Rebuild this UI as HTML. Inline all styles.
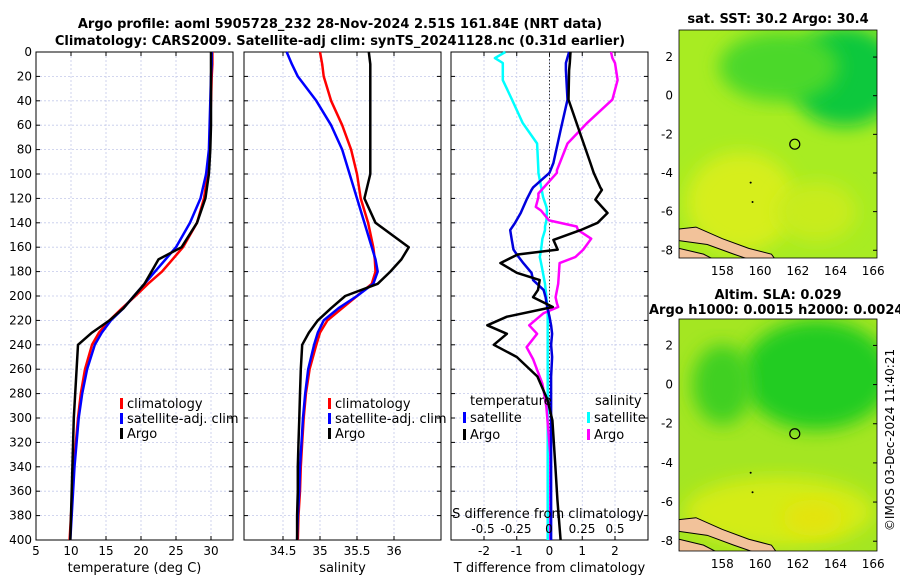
<!DOCTYPE html>
<html><head><meta charset="utf-8">
<style>
html,body{margin:0;padding:0;background:#fff;}
svg{display:block;font-family:"DejaVu Sans","Liberation Sans",sans-serif;}
</style></head>
<body>
<svg id="fig" width="900" height="580" viewBox="0 0 900 580" xmlns="http://www.w3.org/2000/svg">
<defs>
<filter id="blur1" x="-20%" y="-20%" width="140%" height="140%"><feGaussianBlur stdDeviation="9"/></filter>
<clipPath id="cm1"><rect x="679" y="30" width="198" height="228"/></clipPath>
<clipPath id="cm2"><rect x="679" y="319" width="198" height="232"/></clipPath>
</defs>
<g id="titles" font-weight="bold" font-size="13" text-anchor="middle">
<text x="340" y="28">Argo profile: aoml 5905728_232 28-Nov-2024 2.51S 161.84E (NRT data)</text>
<text x="340" y="45">Climatology: CARS2009. Satellite-adj clim: synTS_20241128.nc (0.31d earlier)</text>
<text x="778" y="23">sat. SST: 30.2 Argo: 30.4</text>
<text x="778" y="299">Altim. SLA: 0.029</text>
<text x="649" y="314" text-anchor="start">Argo h1000: 0.0015 h2000: 0.0024</text>
</g>
<text x="0" y="0" font-size="12" transform="translate(894,440) rotate(-90)" text-anchor="middle">©IMOS 03-Dec-2024 11:40:21</text>
</svg>
<script>
// ---------- data ----------
const depths = [0,10,20,40,60,80,100,120,140,160,170,180,190,200,210,220,230,240,260,280,300,320,340,360,380,400];
const tempArgo = [30.0,30.0,30.0,30.0,30.0,29.9,29.7,29.2,28.0,25.8,22.5,21.5,20.5,19.0,17.5,15.5,13.0,11.0,10.8,10.6,10.4,10.3,10.2,10.1,10.0,9.9];
const tempClim = [30.2,30.2,30.1,30.0,29.9,29.8,29.5,29.0,28.0,26.0,24.5,23.0,21.0,19.2,17.3,15.5,14.0,13.0,12.0,11.4,11.0,10.7,10.4,10.2,10.0,9.8];
const tempSat = [30.1,30.1,30.0,29.9,29.8,29.7,29.3,28.5,27.0,25.0,23.5,22.0,20.5,19.0,17.5,15.7,14.4,13.4,12.3,11.6,11.1,10.8,10.5,10.3,10.1,9.9];
const salArgo = [35.66,35.68,35.68,35.68,35.68,35.68,35.68,35.6,35.75,36.2,36.1,35.95,35.78,35.34,35.15,34.97,34.85,34.76,34.74,34.73,34.72,34.71,34.70,34.70,34.69,34.69];
const salClim = [35.0,35.03,35.05,35.15,35.3,35.42,35.5,35.55,35.65,35.72,35.74,35.75,35.7,35.5,35.3,35.1,35.0,34.95,34.86,34.81,34.78,34.76,34.74,34.73,34.71,34.7];
const salSat = [34.55,34.62,34.7,34.95,35.15,35.3,35.4,35.5,35.6,35.7,35.75,35.78,35.72,35.5,35.25,35.05,34.97,34.92,34.84,34.8,34.77,34.75,34.73,34.72,34.7,34.69];
const dDepths = [0,9,15,39,64,91,99,111,113,121,132,140,146,154,162,166,173,181,187,195,201,209,217,224,231,240,250,266,285,302,340,367,397,400];
const dTArgo = [0.64,0.62,0.6,0.58,0.9,1.25,1.35,1.55,1.6,1.4,1.77,1.47,0.95,0.12,0.25,-0.97,-1.5,-1.0,-0.3,-0.35,-0.5,0.1,-1.3,-1.9,-1.3,-1.7,-1.0,-0.37,-0.06,0.09,0.18,0.24,0.33,0.34];
const dTSat = [0.6,0.5,0.5,0.55,0.34,0.12,0.0,-0.5,-0.55,-0.7,-0.88,-1.05,-1.2,-1.15,-1.1,-1.0,-0.8,-0.55,-0.5,-0.18,-0.12,-0.07,0.0,0.05,0.08,0.05,0.08,0.05,0.05,0.05,0.05,0.05,0.05,0.05];
const sDepths = [0,5,9,23,39,58,75,97,99,116,119,127,130,138,143,146,153,162,168,173,190,201,206,209,214,224,231,242,252,272,291,330,370,400];
const dSArgo = [0.47,0.48,0.5,0.52,0.48,0.29,0.14,0.06,0.06,-0.08,-0.08,-0.1,-0.06,0.0,0.21,0.22,0.32,0.26,0.2,0.08,0.07,0.05,0.06,0.07,-0.04,-0.15,-0.09,-0.17,-0.12,-0.05,-0.02,0.01,0.01,0.01];
const dSSat = [-0.33,-0.41,-0.35,-0.35,-0.28,-0.2,-0.09,-0.08,-0.08,-0.05,-0.045,-0.02,-0.015,-0.02,-0.03,-0.03,-0.05,-0.06,-0.07,-0.06,-0.03,-0.02,-0.015,-0.01,-0.01,-0.01,-0.01,-0.01,-0.01,-0.01,-0.01,-0.01,-0.01,-0.01];
const depthTicks = [0,20,40,60,80,100,120,140,160,180,200,220,240,260,280,300,320,340,360,380,400];
const tempTicks = [5,10,15,20,25,30];
const salTicks = [34.5,35,35.5,36];
const dTTicks = [-2,-1,0,1,2];
const dSTicks = [-0.5,-0.25,0,0.25,0.5];
const mapLatTicks = [2,0,-2,-4,-6,-8];
const mapLonTicks = [158,160,162,164,166];
const argoLon = 161.84, argoLat = -2.51;

// ---------- helpers ----------
const NS='http://www.w3.org/2000/svg';
const svg=document.getElementById('fig');
function mk(tag,attrs,parent){const e=document.createElementNS(NS,tag);for(const k in attrs)e.setAttribute(k,attrs[k]);(parent||svg).appendChild(e);return e;}
const Y0=52,Y1=540;
const yD=d=>Y0+(d/400)*(Y1-Y0);
function lin(v0,v1,p0,p1){return v=>p0+(v-v0)/(v1-v0)*(p1-p0);}

function panel(name,x0,x1,xs,xt,xlab,leftLabels){
  const g=mk('g',{});
  
  
  xt.forEach(v=>{const x=xs(v);const l=mk('line',{x1:x,x2:x,y1:Y0,y2:Y1,stroke:'#c4c9ea','stroke-width':0.8,'stroke-dasharray':'2,2'},g);
    });
  depthTicks.forEach(d=>{const y=yD(d);const l=mk('line',{x1:x0,x2:x1,y1:y,y2:y,stroke:'#c4c9ea','stroke-width':0.8,'stroke-dasharray':'2,2'},g);
    
    mk('line',{x1:x0,x2:x0+4,y1:y,y2:y,stroke:'#000'},g);mk('line',{x1:x1,x2:x1-4,y1:y,y2:y,stroke:'#000'},g);
    if(leftLabels){const t=mk('text',{x:x0-4,y:y+4,'font-size':12,'text-anchor':'end'},g);t.textContent=d;
      }
  });
  xt.forEach(v=>{const x=xs(v);mk('line',{x1:x,x2:x,y1:Y1,y2:Y1-4,stroke:'#000'},g);mk('line',{x1:x,x2:x,y1:Y0,y2:Y0+4,stroke:'#000'},g);
    const t=mk('text',{x:x,y:Y1+15,'font-size':12,'text-anchor':'middle'},g);t.textContent=v;
    });
  const t=mk('text',{x:(x0+x1)/2,y:Y1+32,'font-size':13,'text-anchor':'middle'},g);t.textContent=xlab;
  
  const b=mk('rect',{x:x0,y:Y0,width:x1-x0,height:Y1-Y0,fill:'none',stroke:'#000','stroke-width':1},g);
  
  return g;
}
function series(g,name,vals,ds,xs,color,w){
  const pts=vals.map((v,i)=>xs(v).toFixed(1)+','+yD(ds[i]).toFixed(1)).join(' ');
  const p=mk('polyline',{points:pts,fill:'none',stroke:color,'stroke-width':w||2.5,'stroke-linejoin':'round'},g);
  
  
}
function legendEntry(g,x,y,color,label,name){
  const r=mk('rect',{x:x,y:y-10,width:3,height:11,fill:color},g);
  const t=mk('text',{x:x+7,y:y,'font-size':13},g);t.textContent=label;
  
  
}

// ---------- panel 1 ----------
const xT=lin(5,30,36,211);
const g1=panel('temperature-panel',36,233,xT,tempTicks,'temperature (deg C)',true);
series(g1,'temp-climatology-line',tempClim,depths,xT,'#ff0000');
series(g1,'temp-satellite-line',tempSat,depths,xT,'#0000ff');
series(g1,'temp-argo-line',tempArgo,depths,xT,'#000000');
legendEntry(g1,120,408,'#ff0000','climatology','legend-climatology');
legendEntry(g1,120,423,'#0000ff','satellite-adj. clim','legend-satellite');
legendEntry(g1,120,438,'#000000','Argo','legend-argo');

// ---------- panel 2 ----------
const xS=lin(34.5,36,283,394);
const g2=panel('salinity-panel',244,441,xS,salTicks,'salinity',false);
series(g2,'sal-climatology-line',salClim,depths,xS,'#ff0000');
series(g2,'sal-satellite-line',salSat,depths,xS,'#0000ff');
series(g2,'sal-argo-line',salArgo,depths,xS,'#000000');
legendEntry(g2,328,408,'#ff0000','climatology','legend-climatology');
legendEntry(g2,328,423,'#0000ff','satellite-adj. clim','legend-satellite');
legendEntry(g2,328,438,'#000000','Argo','legend-argo');

// ---------- panel 3 ----------
const xdT=lin(-2,2,484,615);
const xdS=lin(-0.5,0.5,483,615);
const g3=panel('difference-panel',451,648,xdT,dTTicks,'T difference from climatology',false);
const z=mk('line',{x1:xdT(0),x2:xdT(0),y1:Y0,y2:Y1,stroke:'#333','stroke-width':1,'stroke-dasharray':'1.5,2'},g3);

series(g3,'dS-satellite-line',dSSat,sDepths,xdS,'#00ffff');
series(g3,'dS-argo-line',dSArgo,sDepths,xdS,'#ff00ff');
series(g3,'dT-satellite-line',dTSat,dDepths,xdT,'#0000dd');
series(g3,'dT-argo-line',dTArgo,dDepths,xdT,'#000000');
let tt=mk('text',{x:470,y:405,'font-size':13},g3);tt.textContent='temperature';

tt=mk('text',{x:595,y:405,'font-size':13},g3);tt.textContent='salinity';

legendEntry(g3,463,422,'#0000ff','satellite','legend-temp-satellite');
legendEntry(g3,463,439,'#000000','Argo','legend-temp-argo');
legendEntry(g3,587,422,'#00ffff','satellite','legend-sal-satellite');
legendEntry(g3,587,439,'#ff00ff','Argo','legend-sal-argo');
tt=mk('text',{x:548,y:518,'font-size':13,'text-anchor':'middle'},g3);tt.textContent='S difference from climatology';

dSTicks.forEach(v=>{const t=mk('text',{x:xdS(v),y:533,'font-size':12,'text-anchor':'middle'},g3);t.textContent=v;
  });

// ---------- maps ----------
function map(name,x0,y0,w,h,latTop,latBot,clip,isSST){
  const g=mk('g',{});
  
  
  const lon=lin(155.7,166.2,x0,x0+w), lat=lin(latTop,latBot,y0,y0+h);
  const cg=mk('g',{'clip-path':'url(#'+clip+')'},g);
  if(isSST){
    mk('rect',{x:x0,y:y0,width:w,height:h,fill:'#a8ec22'},cg);
    mk('ellipse',{cx:lon(164.5),cy:lat(1),rx:55,ry:50,fill:'#10c83c',filter:'url(#blur1)'},cg);
    mk('ellipse',{cx:lon(161),cy:lat(1.5),rx:60,ry:35,fill:'#4cd82c',filter:'url(#blur1)'},cg);
    mk('ellipse',{cx:lon(159),cy:lat(-5.5),rx:55,ry:50,fill:'#d6ee1a',filter:'url(#blur1)'},cg);
    mk('ellipse',{cx:lon(163),cy:lat(-6),rx:40,ry:30,fill:'#c8ec1e',filter:'url(#blur1)'},cg);
  } else {
    mk('rect',{x:x0,y:y0,width:w,height:h,fill:'#a4e622'},cg);
    mk('ellipse',{cx:lon(163),cy:lat(0.5),rx:75,ry:55,fill:'#22cc22',filter:'url(#blur1)'},cg);
    mk('ellipse',{cx:lon(158),cy:lat(0),rx:30,ry:40,fill:'#40d020',filter:'url(#blur1)'},cg);
    mk('ellipse',{cx:lon(161),cy:lat(-6.5),rx:95,ry:35,fill:'#d4ec18',filter:'url(#blur1)'},cg);
    mk('ellipse',{cx:lon(162.8),cy:lat(-6.8),rx:30,ry:18,fill:'#e4e410',filter:'url(#blur1)'},cg);
  }
  const land=mk('polygon',{points:[[155.7,-6.9],[156.6,-6.8],[158.0,-7.4],[159.4,-7.9],[160.6,-8.2],[160.9,-8.6],[159.8,-8.6],[158.6,-8.2],[157.2,-7.7],[155.7,-7.5]].map(p=>lon(p[0])+','+lat(p[1])).join(' '),fill:'#f2c29a',stroke:'#000','stroke-width':1},cg);
  
  const land2=mk('polygon',{points:[[155.7,-7.9],[157.0,-8.2],[157.8,-8.6],[155.7,-8.6]].map(p=>lon(p[0])+','+lat(p[1])).join(' '),fill:'#f2c29a',stroke:'#000','stroke-width':1},cg);
  
  mk('circle',{cx:lon(159.5),cy:lat(-4.5),r:1,fill:'#000'},cg);
  mk('circle',{cx:lon(159.6),cy:lat(-5.5),r:1,fill:'#000'},cg);
  const c=mk('circle',{cx:lon(argoLon),cy:lat(argoLat),r:5,fill:'none',stroke:'#000','stroke-width':1.2},g);
  
  mk('rect',{x:x0,y:y0,width:w,height:h,fill:'none',stroke:'#000','stroke-width':0.8},g);
  mapLatTicks.forEach(v=>{const y=lat(v);mk('line',{x1:x0+w,x2:x0+w-4,y1:y,y2:y,stroke:'#000'},g);
    const t=mk('text',{x:x0-6,y:y+4,'font-size':12,'text-anchor':'end'},g);t.textContent=v;
    });
  mapLonTicks.forEach(v=>{const x=lon(v);
    const t=mk('text',{x:x,y:y0+h+17,'font-size':12,'text-anchor':'middle'},g);t.textContent=v;
    });
}
map('sst-map',679,30,198,228,3.4,-8.4,'cm1',true);
map('sla-map',679,319,198,232,3.35,-8.5,'cm2',false);
</script>
</body></html>
